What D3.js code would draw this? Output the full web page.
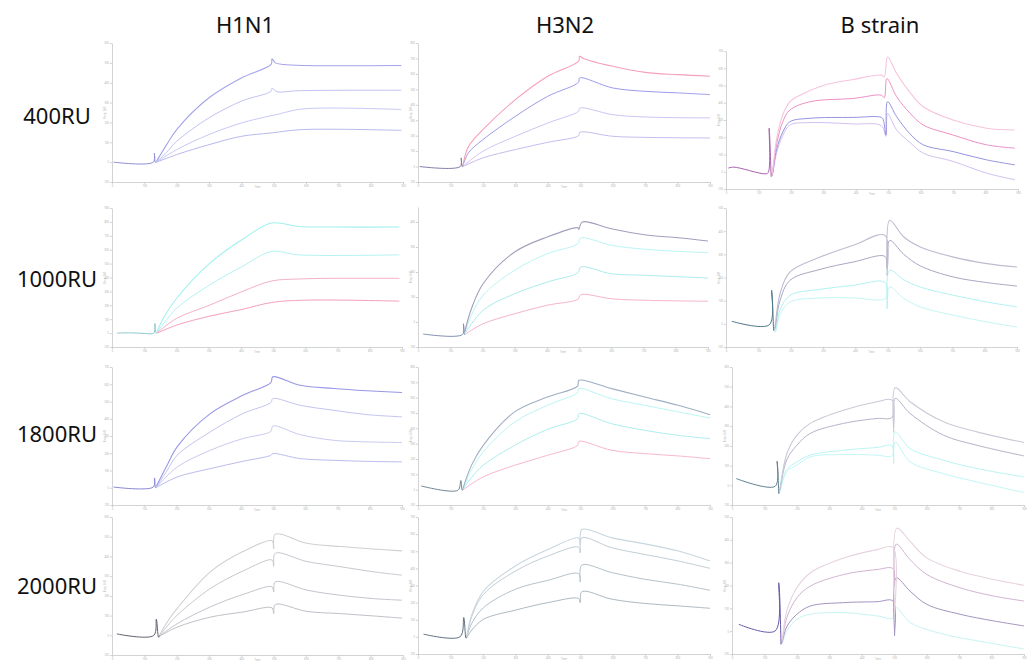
<!DOCTYPE html>
<html><head><meta charset="utf-8">
<script src="https://cdn.jsdelivr.net/npm/d3@7"></script>
<style>body{margin:0;background:#fff}svg{display:block}</style>
</head><body><svg id="c" width="1028" height="662"></svg>
<script>
// ---------- labels ----------
const columns = ["H1N1", "H3N2", "B strain"];
const rows = ["400RU", "1000RU", "1800RU", "2000RU"];
const xTickLabels = ["0","100","200","300","400","500","600","700","800","900"];
const yTickCounts = [[7, 9, 8], [10, 5, 6], [8, 9, 7], [7, 8, 6]];
const yTops = [[7, 9, 8], [10, 5.6, 6], [8, 9, 7], [7, 8, 6]];

// ---------- data (x: time in tick units, y: response in tick units) ----------
// Row 400RU
const pre_400_H1N1 = [[0.05,1.0],[1.28,1.0],[1.31,1.45],[1.34,1.0],[1.38,1.02]];
const sens_400_H1N1 = [
  [[1.38,1.05],[1.69,1.88],[2.0,2.64],[3.0,4.24],[4.0,5.24],[4.92,5.92],[4.95,6.2],[5.05,6.0],[5.3,5.92],[5.9,5.87],[8.95,5.87]],
  [[1.38,1.02],[1.69,1.5],[2.0,2.05],[3.0,3.23],[4.0,4.07],[4.92,4.57],[4.95,4.72],[5.1,4.55],[5.8,4.6],[8.95,4.62]],
  [[1.38,1.0],[2.0,1.63],[3.0,2.39],[4.0,2.97],[4.92,3.34],[5.1,3.4],[5.9,3.68],[8.95,3.65]],
  [[1.38,1.0],[2.0,1.38],[3.0,1.88],[4.0,2.3],[4.92,2.47],[5.9,2.64],[8.95,2.6]]
];
const pre_400_H3N2 = [[0.05,1.0],[1.3,1.0],[1.33,1.56],[1.36,1.0],[1.38,1.02]];
const sens_400_H3N2 = [
  [[1.38,1.05],[1.56,2.31],[2.0,3.39],[3.0,5.33],[4.0,6.85],[4.95,7.82],[4.98,8.14],[5.1,8.0],[6.0,7.49],[7.0,7.1],[8.0,6.95],[9.0,6.85]],
  [[1.38,1.03],[1.56,1.9],[2.0,2.74],[3.0,4.25],[4.0,5.55],[4.95,6.46],[4.98,6.74],[6.0,6.09],[7.0,5.87],[8.0,5.77],[9.0,5.66]],
  [[1.38,1.0],[2.0,1.99],[3.0,2.96],[4.0,3.82],[4.95,4.58],[4.99,4.79],[6.0,4.36],[7.0,4.21],[9.0,4.15]],
  [[1.38,1.0],[2.0,1.56],[3.0,2.1],[4.0,2.57],[4.95,3.0],[4.99,3.22],[6.0,2.96],[7.0,2.89],[9.0,2.85]]
];
const pre_400_B = [[0.07,1.21],[0.23,1.27],[1.2,0.88],[1.3,0.95],[1.33,3.52],[1.39,0.73]];
const sens_400_B = [
  [[1.39,0.73],[1.41,0.8],[1.56,2.9],[1.75,4.3],[1.97,5.06],[2.28,5.44],[3.0,6.0],[3.92,6.35],[4.79,6.6],[4.88,6.5],[4.98,7.65],[5.26,6.7],[5.67,5.6],[6.08,4.77],[7.0,4.0],[8.03,3.52],[8.9,3.42]],
  [[1.39,0.73],[1.41,0.78],[1.56,2.6],[1.75,3.9],[1.97,4.58],[2.59,5.06],[3.92,5.25],[4.79,5.44],[4.88,5.3],[4.96,6.4],[5.26,5.35],[5.67,4.4],[6.08,3.71],[7.0,3.13],[8.03,2.56],[8.9,2.37]],
  [[1.39,0.73],[1.41,0.75],[1.56,2.3],[1.75,3.3],[1.97,3.9],[2.59,4.1],[3.92,4.15],[4.79,4.15],[4.85,4.0],[4.93,3.13],[4.98,5.06],[5.26,4.19],[5.67,3.2],[6.08,2.56],[7.0,2.17],[8.03,1.69],[8.9,1.4]],
  [[1.39,0.73],[1.41,0.73],[1.56,2.1],[1.75,3.1],[1.97,3.71],[2.59,3.85],[3.92,3.77],[4.79,3.67],[4.93,3.05],[4.98,4.38],[5.26,3.42],[5.67,2.7],[6.08,2.08],[7.0,1.6],[8.03,0.92],[8.9,0.54]]
];
// Row 1000RU
const pre_1000_H1N1 = [[0.15,1.0],[0.6,1.02],[1.0,0.98],[1.3,1.0],[1.33,1.69],[1.37,1.0],[1.4,1.0]];
const sens_1000_H1N1 = [
  [[1.4,1.1],[1.6,2.1],[2.0,3.49],[3.03,6.02],[4.03,7.71],[4.95,8.92],[5.79,8.67],[6.82,8.63],[8.92,8.63]],
  [[1.4,1.05],[2.0,2.77],[3.03,4.46],[4.03,5.78],[4.95,6.87],[5.79,6.63],[8.92,6.63]],
  [[1.4,1.02],[2.0,2.05],[3.03,3.01],[4.03,3.98],[4.95,4.75],[5.79,4.89],[6.82,4.94],[8.92,4.94]],
  [[1.4,1.0],[2.0,1.57],[3.03,2.22],[4.03,2.7],[4.95,3.2],[6.0,3.37],[8.92,3.3]]
];
const pre_1000_H3N2 = [[0.16,0.52],[1.38,0.5],[1.41,0.93],[1.44,0.5],[1.45,0.5]];
const sens_1000_H3N2 = [
  [[1.45,0.6],[1.65,1.5],[2.02,2.53],[3.0,3.8],[4.01,4.4],[4.96,4.77],[4.99,4.7],[5.1,5.0],[6.0,4.73],[7.03,4.49],[8.07,4.37],[9.0,4.24]],
  [[1.45,0.55],[1.65,1.25],[2.02,2.07],[3.0,3.07],[4.01,3.73],[4.96,4.13],[5.05,4.36],[6.0,4.07],[7.03,3.91],[9.0,3.77]],
  [[1.45,0.52],[2.02,1.47],[3.0,2.13],[4.01,2.6],[4.96,2.97],[5.05,3.2],[6.0,2.93],[7.03,2.87],[9.0,2.76]],
  [[1.45,0.5],[2.02,0.93],[3.0,1.33],[4.01,1.67],[4.96,1.91],[5.05,2.09],[6.0,1.93],[7.03,1.87],[9.0,1.83]]
];
const pre_1000_B = [[0.18,1.11],[1.34,0.96],[1.41,2.45],[1.47,0.72]];
const sens_1000_B = [
  [[1.47,0.72],[1.5,0.8],[1.67,2.3],[1.98,3.24],[2.91,3.88],[3.94,4.39],[4.92,4.82],[4.98,3.1],[5.06,5.47],[5.5,4.75],[6.01,4.32],[7.04,3.88],[8.07,3.6],[9.0,3.45]],
  [[1.47,0.72],[1.5,0.75],[1.67,2.0],[1.98,2.88],[2.91,3.35],[3.94,3.67],[4.92,3.91],[4.98,3.4],[5.06,4.6],[5.5,4.0],[6.01,3.5],[7.04,3.02],[8.07,2.78],[9.0,2.63]],
  [[1.47,0.72],[1.52,0.68],[1.67,1.6],[1.98,2.23],[2.91,2.49],[3.94,2.66],[4.92,2.78],[4.98,1.65],[5.06,3.31],[5.5,2.9],[6.01,2.59],[7.04,2.23],[8.07,1.94],[9.0,1.73]],
  [[1.47,0.72],[1.52,0.65],[1.67,1.4],[1.98,1.94],[2.91,2.12],[3.94,2.12],[4.92,2.09],[5.06,2.59],[5.5,2.1],[6.01,1.73],[7.04,1.37],[8.07,1.08],[9.0,0.86]]
];
// Row 1800RU
const pre_1800_H1N1 = [[0.05,1.04],[1.28,1.04],[1.32,1.57],[1.35,1.0],[1.38,1.04]];
const sens_1800_H1N1 = [
  [[1.38,1.1],[1.71,2.3],[2.02,3.37],[3.05,5.3],[4.06,6.36],[4.93,7.1],[4.99,7.43],[5.84,6.94],[6.88,6.75],[7.91,6.62],[9.0,6.52]],
  [[1.38,1.05],[1.71,2.0],[2.02,2.88],[3.05,4.24],[4.06,5.3],[4.93,5.94],[4.99,6.17],[5.84,5.78],[6.88,5.49],[7.91,5.24],[9.0,5.11]],
  [[1.38,1.03],[2.02,2.2],[3.05,3.17],[4.06,3.85],[4.93,4.27],[4.99,4.58],[5.84,4.08],[6.88,3.75],[7.91,3.66],[9.0,3.62]],
  [[1.38,1.02],[2.02,1.62],[3.05,2.11],[4.06,2.53],[4.93,2.88],[4.99,2.98],[5.84,2.69],[6.88,2.59],[7.91,2.53],[9.0,2.5]]
];
const pre_1800_H3N2 = [[0.1,1.24],[1.23,0.96],[1.32,1.6],[1.36,0.96],[1.38,1.0]];
const sens_1800_H3N2 = [
  [[1.38,1.05],[1.65,2.6],[2.01,3.89],[2.98,6.07],[3.99,7.04],[4.92,7.76],[4.96,8.13],[5.97,7.59],[6.99,7.04],[8.02,6.5],[9.0,5.89]],
  [[1.38,1.02],[1.65,2.3],[2.01,3.46],[2.98,5.41],[3.99,6.5],[4.92,7.33],[4.96,7.59],[5.97,6.93],[6.99,6.5],[8.02,6.07],[9.0,5.67]],
  [[1.38,1.0],[1.65,1.8],[2.01,2.59],[2.98,3.89],[3.99,4.93],[4.92,5.63],[4.96,5.96],[5.97,5.3],[6.99,4.87],[8.02,4.54],[9.0,4.33]],
  [[1.38,0.98],[2.01,1.83],[2.98,2.59],[3.99,3.24],[4.92,3.89],[4.96,4.15],[5.97,3.57],[6.99,3.35],[8.02,3.2],[9.0,3.02]]
];
const pre_1800_B = [[0.13,1.34],[1.33,0.95],[1.39,2.22],[1.44,0.58]];
const sens_1800_B = [
  [[1.44,0.58],[1.47,0.8],[1.69,2.6],[2.0,3.54],[2.41,4.14],[3.44,4.81],[4.47,5.24],[4.93,5.32],[4.98,3.7],[5.03,5.95],[5.49,5.24],[6.52,4.22],[7.55,3.71],[9.0,3.17]],
  [[1.44,0.58],[1.47,0.75],[1.69,2.3],[2.0,3.03],[2.41,3.63],[3.44,4.14],[4.47,4.39],[4.93,4.44],[5.03,5.41],[5.49,4.64],[6.52,3.54],[7.55,3.03],[9.0,2.49]],
  [[1.44,0.58],[1.47,0.7],[1.69,1.8],[2.0,2.19],[2.41,2.53],[3.44,2.78],[4.47,2.92],[4.93,3.0],[4.98,2.1],[5.03,3.71],[5.49,2.86],[6.52,2.27],[7.55,1.85],[9.0,1.42]],
  [[1.44,0.58],[1.47,0.65],[1.69,1.7],[2.0,2.02],[2.41,2.44],[3.44,2.56],[4.47,2.53],[4.93,2.49],[5.03,3.2],[5.49,2.19],[6.52,1.59],[7.55,1.17],[9.0,0.63]]
];
// Row 2000RU
const pre_2000_H1N1 = [[0.15,1.07],[1.29,0.99],[1.37,1.81],[1.44,0.9],[1.47,0.98]];
const sens_2000_H1N1 = [
  [[1.47,1.0],[1.7,1.65],[2.01,2.35],[3.04,4.22],[4.05,5.25],[4.95,5.79],[5.0,5.4],[5.05,6.13],[6.03,5.67],[7.06,5.5],[8.09,5.38],[8.97,5.28]],
  [[1.47,0.98],[1.7,1.45],[2.01,2.01],[3.04,3.37],[4.05,4.26],[4.95,4.82],[5.0,4.5],[5.05,5.16],[6.03,4.74],[7.06,4.48],[8.09,4.22],[8.97,4.05]],
  [[1.47,0.96],[2.01,1.58],[3.04,2.44],[4.05,3.07],[4.95,3.46],[5.0,3.2],[5.05,3.71],[6.03,3.29],[7.06,3.03],[8.09,2.86],[8.97,2.78]],
  [[1.47,0.95],[2.01,1.41],[3.04,1.92],[4.05,2.18],[4.95,2.39],[5.0,2.1],[5.05,2.56],[6.03,2.21],[7.06,2.1],[8.09,1.98],[8.97,1.87]]
];
const pre_2000_H3N2 = [[0.17,1.16],[1.3,1.01],[1.41,2.13],[1.48,0.93],[1.5,0.96]];
const sens_2000_H3N2 = [
  [[1.5,1.0],[1.66,2.3],[2.02,3.68],[3.0,5.14],[4.0,6.1],[4.95,6.78],[5.0,6.4],[5.05,7.27],[5.98,6.78],[7.0,6.43],[8.03,6.01],[9.0,5.43]],
  [[1.5,0.98],[1.66,2.2],[2.02,3.49],[3.0,4.84],[4.0,5.72],[4.95,6.24],[5.0,5.9],[5.05,6.78],[5.98,6.2],[7.0,5.81],[8.03,5.43],[9.0,5.0]],
  [[1.5,0.96],[1.66,1.8],[2.02,2.71],[3.0,3.78],[4.0,4.3],[4.95,4.69],[5.0,4.2],[5.05,5.19],[5.98,4.75],[7.0,4.36],[8.03,4.07],[9.0,3.72]],
  [[1.5,0.95],[1.66,1.4],[2.02,2.03],[3.0,2.56],[4.0,3.0],[4.95,3.24],[5.0,3.0],[5.05,3.64],[5.98,3.2],[7.0,2.95],[8.03,2.81],[9.0,2.67]]
];
const pre_2000_B = [[0.21,1.3],[1.33,1.01],[1.44,3.12],[1.51,0.43]];
const sens_2000_B = [
  [[1.51,0.43],[1.54,0.6],[1.69,1.9],[2.0,2.9],[2.41,3.55],[3.44,4.2],[4.47,4.57],[4.96,4.67],[5.01,1.74],[5.08,5.51],[5.49,4.93],[6.01,4.2],[7.03,3.62],[8.06,3.26],[9.0,3.01]],
  [[1.51,0.43],[1.54,0.55],[1.69,1.6],[2.0,2.46],[2.41,2.97],[3.44,3.48],[4.47,3.7],[4.96,3.74],[5.01,3.0],[5.06,4.81],[5.49,4.13],[6.01,3.48],[7.03,2.9],[8.06,2.54],[9.0,2.32]],
  [[1.51,0.43],[1.54,0.5],[1.69,1.2],[2.0,1.74],[2.41,2.1],[3.44,2.25],[4.47,2.29],[4.96,2.32],[5.01,0.8],[5.06,3.33],[5.49,2.75],[6.01,2.17],[7.03,1.74],[8.06,1.45],[9.0,1.23]],
  [[1.51,0.43],[1.54,0.45],[1.69,1.0],[2.0,1.52],[2.41,1.74],[3.44,1.81],[4.47,1.67],[4.96,1.57],[5.06,2.03],[5.49,1.38],[6.52,0.87],[7.55,0.58],[9.0,0.22]]
];

const preGrid = [
  [pre_400_H1N1, pre_400_H3N2, pre_400_B],
  [pre_1000_H1N1, pre_1000_H3N2, pre_1000_B],
  [pre_1800_H1N1, pre_1800_H3N2, pre_1800_B],
  [pre_2000_H1N1, pre_2000_H3N2, pre_2000_B]
];
const sensGrid = [
  [sens_400_H1N1, sens_400_H3N2, sens_400_B],
  [sens_1000_H1N1, sens_1000_H3N2, sens_1000_B],
  [sens_1800_H1N1, sens_1800_H3N2, sens_1800_B],
  [sens_2000_H1N1, sens_2000_H3N2, sens_2000_B]
];

// ---------- layout & styles ----------
const layout = [
  [{x0:112,x1:403,y0:43,y1:182},{x0:418,x1:710,y0:43,y1:182},{x0:726,x1:1018,y0:51,y1:189}],
  [{x0:112,x1:402,y0:208,y1:347},{x0:418,x1:708,y0:207,y1:347},{x0:726,x1:1017,y0:208,y1:347}],
  [{x0:112,x1:402,y0:367,y1:505},{x0:418,x1:710,y0:367,y1:505},{x0:732,x1:1024,y0:367,y1:505}],
  [{x0:112,x1:403,y0:517,y1:655},{x0:418,x1:710,y0:517,y1:654},{x0:732,x1:1024,y0:517,y1:654}]
];
const palettes = [
  [["#a4a4ea","#c2c2f2","#c8c8f4","#b8b8ee"],["#f4a0b8","#9c9cec","#d0c4f4","#c8bcee"],["#f6c4de","#ec90c4","#9494e0","#d2c0f0"]],
  [["#a0f0f0","#b4f2f2","#f4b0cc","#f4a0bc"],["#a0a0bc","#bcf4f4","#acecec","#f6b4cc"],["#bcbcd0","#a8a8c4","#b4f2f2","#c4f6f6"]],
  [["#9898e6","#c4c4f0","#cacaf2","#bcbcee"],["#a0aec4","#bcf4f4","#aeeeee","#f6b8d0"],["#cacad8","#b4b4c8","#bcf4f4","#c4f6f6"]],
  [["#d0d0d4","#c8c8d0","#c4c4cc","#c0c0c8"],["#c8d6de","#c0ced6","#b4c2ca","#acbac2"],["#e6d2e0","#d0b4d0","#a494c0","#c8f4f4"]]
];
const preColors = [
  ["#9090d8","#8080a8","#a860b0"],
  ["#90c8cc","#8090b0","#507888"],
  ["#8888d4","#708898","#608090"],
  ["#606070","#607080","#6858a8"]
];

const svg = d3.select("#c");
const font = "'Noto Sans', 'Malgun Gothic', sans-serif";

// Column titles
const colCenters = [245, 565, 880];
columns.forEach((c, i) => {
  svg.append("text").attr("x", colCenters[i]).attr("y", 24)
    .attr("text-anchor", "middle").attr("dominant-baseline", "central")
    .style("font-family", font).style("font-size", "22px").attr("fill", "#111").text(c);
});
// Row labels
const rowCenters = [115, 278, 433, 585];
rows.forEach((r, i) => {
  svg.append("text").attr("x", 57).attr("y", rowCenters[i])
    .attr("text-anchor", "middle").attr("dominant-baseline", "central")
    .style("font-family", font).style("font-size", "22px").attr("fill", "#111").text(r);
});

const axisColor = "#c8c8c8";
for (let r = 0; r < 4; r++) {
  for (let c = 0; c < 3; c++) {
    const L = layout[r][c];
    const x = d3.scaleLinear().domain([0, 9]).range([L.x0, L.x1]);
    const y = d3.scaleLinear().domain([0, yTops[r][c]]).range([L.y1, L.y0]);
    const g = svg.append("g");

    const xAxis = d3.axisBottom(x).tickValues(d3.range(0, 10))
      .tickFormat(d => xTickLabels[d]).tickSizeInner(2).tickSizeOuter(0).tickPadding(1);
    const gx = g.append("g").attr("transform", `translate(0,${L.y1})`).call(xAxis);
    const yTickVals = d3.range(0, yTickCounts[r][c] + 1);
    const yAxis = d3.axisLeft(y).tickValues(yTickVals)
      .tickFormat(d => String((d - 1) * 100)).tickSizeInner(2).tickSizeOuter(0).tickPadding(1);
    const gy = g.append("g").attr("transform", `translate(${L.x0},0)`).call(yAxis);
    [gx, gy].forEach(a => {
      a.select(".domain").attr("stroke", axisColor).attr("stroke-width", 0.8);
      a.selectAll(".tick line").attr("stroke", axisColor).attr("stroke-width", 0.8);
      a.selectAll(".tick text").attr("fill", "#b0b0b0").style("font-size", "2.6px").style("font-family", font);
    });
    // axis titles
    g.append("text").attr("x", (L.x0 + L.x1) / 2).attr("y", L.y1 + 5.5)
      .attr("text-anchor", "middle").style("font-size", "2.6px").attr("fill", "#b0b0b0")
      .style("font-family", font).text("Time");
    g.append("text").attr("transform", `translate(${L.x0 - 6},${(L.y0 + L.y1) / 2}) rotate(-90)`)
      .attr("text-anchor", "middle").style("font-size", "2.6px").attr("fill", "#b0b0b0")
      .style("font-family", font).text("Resp. Diff.");

    const line = d3.line().x(d => x(d[0])).y(d => y(d[1])).curve(d3.curveCatmullRom.alpha(0.5));
    // curves (bottom first so that top curve overlays)
    const sens = sensGrid[r][c];
    for (let k = sens.length - 1; k >= 0; k--) {
      g.append("path").attr("d", line(sens[k])).attr("fill", "none")
        .attr("stroke", palettes[r][c][k]).attr("stroke-width", k === 0 ? 1.1 : 1.0)
        .attr("stroke-linejoin", "round");
    }
    // shared baseline before injection
    g.append("path").attr("d", line(preGrid[r][c])).attr("fill", "none")
      .attr("stroke", preColors[r][c]).attr("stroke-width", 1.0).attr("stroke-linejoin", "round");
  }
}
</script></body></html>
